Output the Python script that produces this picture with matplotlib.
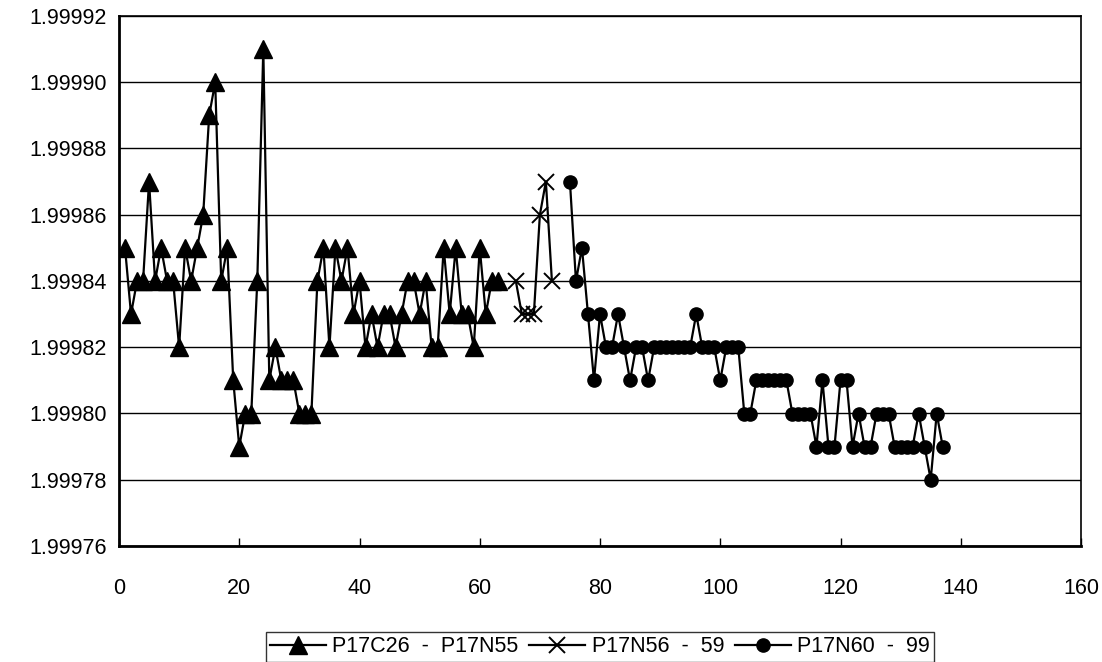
import matplotlib
matplotlib.use("Agg")
import matplotlib.pyplot as plt
from matplotlib.ticker import FormatStrFormatter, MultipleLocator

plt.rcParams['font.family'] = ['Liberation Sans', 'DejaVu Sans']

# P17C26 - P17N55
x1 = list(range(1, 64))
y1 = [1.99985, 1.99983, 1.99984, 1.99984, 1.99987, 1.99984, 1.99985, 1.99984,
      1.99984, 1.99982, 1.99985, 1.99984, 1.99985, 1.99986, 1.99989, 1.99990,
      1.99984, 1.99985, 1.99981, 1.99979, 1.99980, 1.99980, 1.99984, 1.99991,
      1.99981, 1.99982, 1.99981, 1.99981, 1.99981, 1.99980, 1.99980, 1.99980,
      1.99984, 1.99985, 1.99982, 1.99985, 1.99984, 1.99985, 1.99983, 1.99984,
      1.99982, 1.99983, 1.99982, 1.99983, 1.99983, 1.99982, 1.99983, 1.99984,
      1.99984, 1.99983, 1.99984, 1.99982, 1.99982, 1.99985, 1.99983, 1.99985,
      1.99983, 1.99983, 1.99982, 1.99985, 1.99983, 1.99984, 1.99984]

# P17N56 - 59
x2 = list(range(66, 73))
y2 = [1.99984, 1.99983, 1.99983, 1.99983, 1.99986, 1.99987, 1.99984]

# P17N60 - 99
x3 = list(range(75, 138))
y3 = [1.99987, 1.99984, 1.99985, 1.99983, 1.99981, 1.99983, 1.99982, 1.99982,
      1.99983, 1.99982, 1.99981, 1.99982, 1.99982, 1.99981, 1.99982, 1.99982,
      1.99982, 1.99982, 1.99982, 1.99982, 1.99982, 1.99983, 1.99982, 1.99982,
      1.99982, 1.99981, 1.99982, 1.99982, 1.99982, 1.99980, 1.99980, 1.99981,
      1.99981, 1.99981, 1.99981, 1.99981, 1.99981, 1.99980, 1.99980, 1.99980,
      1.99980, 1.99979, 1.99981, 1.99979, 1.99979, 1.99981, 1.99981, 1.99979,
      1.99980, 1.99979, 1.99979, 1.99980, 1.99980, 1.99980, 1.99979, 1.99979,
      1.99979, 1.99979, 1.99980, 1.99979, 1.99978, 1.99980, 1.99979]

labels = ["P17C26  -  P17N55", "P17N56  -  59", "P17N60  -  99"]

W, H = 1102, 662
fig = plt.figure(figsize=(W / 100, H / 100), dpi=100)
ax = fig.add_axes([119 / W, 1 - 546 / H, (1081 - 119) / W, (546 - 16) / H])

ax.plot(x1, y1, color='black', lw=1.6, marker='^', markersize=12.5,
        label=labels[0])
ax.plot(x2, y2, color='black', lw=1.6, marker='x', markersize=12,
        markeredgewidth=1.4, label=labels[1])
ax.plot(x3, y3, color='black', lw=1.6, marker='o', markersize=9.5,
        label=labels[2])

ax.set_xlim(0, 160)
ax.set_ylim(1.99976, 1.99992)
ax.xaxis.set_major_locator(MultipleLocator(20))
ax.yaxis.set_major_locator(MultipleLocator(0.00002))
ax.yaxis.set_major_formatter(FormatStrFormatter('%.5f'))
ax.grid(axis='y', color='black', lw=1.0)
ax.set_axisbelow(True)

for side in ('left', 'bottom'):
    ax.spines[side].set_linewidth(2.0)
for side in ('right', 'top'):
    ax.spines[side].set_linewidth(1.2)

ax.tick_params(axis='x', direction='in', length=6, width=1.0, pad=23,
               labelsize=15.5, top=False)
ax.tick_params(axis='y', length=0, pad=9, labelsize=15.5)

leg = fig.legend(loc='center', bbox_to_anchor=(600 / W, 1 - 647 / H), ncol=3,
                 frameon=True, fancybox=False, fontsize=15.5, handlelength=2.6,
                 handletextpad=0.3, columnspacing=0.5, borderpad=0.2,
                 borderaxespad=0, edgecolor='black', markerscale=1.0)
leg.get_frame().set_linewidth(1.0)

fig.savefig("out.png", dpi=100)
